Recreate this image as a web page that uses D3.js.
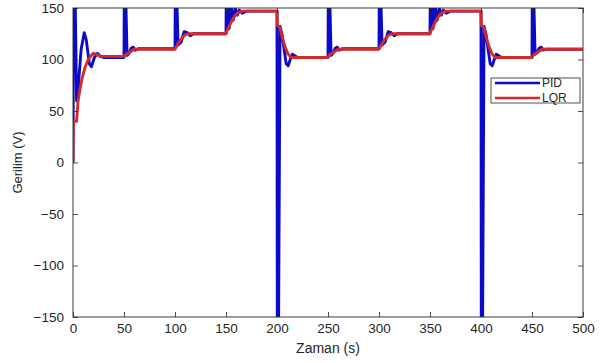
<!DOCTYPE html>
<html>
<head>
<meta charset="utf-8">
<script src="https://cdn.jsdelivr.net/npm/d3@7"></script>
<style>
  body { margin: 0; background: #fff; }
  svg { display: block; font-family: "Liberation Sans", Arial, sans-serif; }
</style>
</head>
<body>
<div id="chart"></div>
<script>
// Gerilim (V) vs Zaman (s) - PID vs LQR
const xTicks = [0, 50, 100, 150, 200, 250, 300, 350, 400, 450, 500];
const yTicks = [-150, -100, -50, 0, 50, 100, 150];

// PID response [t, V] (values beyond +/-150 are clipped by the axes)
const pidData = [
  [0, 0], [0.5, 170], [2, 170], [3.5, 60], [5, 72], [8, 110], [11, 126], [13, 119], [16, 96], [18, 93],
  [21, 102], [24, 106], [27, 103], [30, 102], [50, 102],
  [50.3, 170], [51.5, 170], [53, 104], [55, 106], [57, 111], [59, 112], [61, 109], [64, 110.5], [100, 110.5],
  [100.3, 170], [101.5, 170], [103, 114], [106, 117], [109, 127], [112, 126], [115, 123], [118, 125], [150, 125],
  [150.3, 170], [151.5, 170], [153, 130], [155, 152], [157, 138], [159, 150], [161, 143], [163, 148], [166, 145], [170, 147], [200, 147],
  [200.3, -170], [201.5, -170], [203, 132], [205, 124], [207, 110], [209, 96], [211, 94], [213, 100], [215, 105], [217, 104], [220, 102], [250, 102],
  [250.3, 170], [251.5, 170], [253, 104], [255, 106], [257, 111], [259, 112], [261, 109], [264, 110.5], [300, 110.5],
  [300.3, 170], [301.5, 170], [303, 114], [306, 117], [309, 127], [312, 126], [315, 123], [318, 125], [350, 125],
  [350.3, 170], [351.5, 170], [353, 130], [355, 152], [357, 138], [359, 150], [361, 143], [363, 148], [366, 145], [370, 147], [400, 147],
  [400.3, -170], [401.5, -170], [403, 132], [405, 124], [407, 110], [409, 96], [411, 94], [413, 100], [415, 105], [417, 104], [420, 102], [450, 102],
  [450.3, 170], [451.5, 170], [453, 105], [455, 107], [457, 111], [459, 112], [461, 109], [464, 110], [500, 110]
];

// LQR response [t, V]
const lqrData = [
  [0, 0], [0.4, 40], [3.5, 40], [5, 60], [7, 72], [9, 82], [12, 93], [15, 100], [18, 104], [20, 106], [23, 105], [27, 103], [50, 103],
  [51, 104], [54, 106], [57, 108], [60, 110], [100, 110],
  [101, 112], [104, 117], [107, 121], [110, 124], [113, 125], [150, 125],
  [151, 128], [154, 134], [157, 140], [160, 144], [163, 146], [166, 147], [200, 147],
  [200.4, 133], [203, 131], [205, 122], [208, 112], [211, 105], [214, 102], [250, 102],
  [251, 104], [254, 106], [257, 108], [260, 110], [300, 110],
  [301, 112], [304, 117], [307, 121], [310, 124], [313, 125], [350, 125],
  [351, 128], [354, 134], [357, 140], [360, 144], [363, 146], [366, 147], [400, 147],
  [400.4, 133], [403, 131], [405, 122], [408, 112], [411, 105], [414, 102], [450, 102],
  [451, 104], [454, 106], [457, 108], [460, 110], [500, 110]
];

const seriesNames = ['PID', 'LQR'];
const seriesColors = ['#0a0ac8', '#d42a2a'];

const width = 601, height = 363;
const margin = { top: 8, right: 18, bottom: 46, left: 73 };

const svg = d3.select('#chart').append('svg')
  .attr('width', width)
  .attr('height', height);

const x = d3.scaleLinear().domain([0, 500]).range([margin.left, width - margin.right]);
const y = d3.scaleLinear().domain([-150, 150]).range([height - margin.bottom, margin.top]);

svg.append('clipPath').attr('id', 'clip')
  .append('rect')
  .attr('x', margin.left).attr('y', margin.top)
  .attr('width', x(500) - x(0)).attr('height', y(-150) - y(150));

const line = d3.line().x(d => x(d[0])).y(d => y(d[1]));

const plot = svg.append('g').attr('clip-path', 'url(#clip)');
[pidData, lqrData].forEach((data, i) => {
  plot.append('path')
    .datum(data)
    .attr('fill', 'none')
    .attr('stroke', seriesColors[i])
    .attr('stroke-width', 2.9)
    .attr('stroke-linejoin', 'round')
    .attr('d', line);
});

// Axes (ticks inward, MATLAB style)
const axisColor = '#262626';
function styleAxis(g) {
  g.select('.domain').remove();
  g.selectAll('.tick line').attr('stroke', axisColor).attr('stroke-width', 0.8);
  g.selectAll('.tick text').attr('fill', axisColor).attr('font-size', '13.5px')
    .attr('font-family', '"Liberation Sans", Arial, sans-serif');
}

svg.append('g')
  .attr('transform', `translate(0,${y(-150)})`)
  .call(d3.axisBottom(x).tickValues(xTicks).tickSize(-5).tickPadding(6))
  .call(styleAxis);

svg.append('g')
  .attr('transform', `translate(0,${y(150)})`)
  .call(d3.axisTop(x).tickValues(xTicks).tickSize(-5).tickFormat(''))
  .call(styleAxis);

svg.append('g')
  .attr('transform', `translate(${x(0)},0)`)
  .call(d3.axisLeft(y).tickValues(yTicks).tickSize(-5).tickPadding(9))
  .call(styleAxis);

svg.append('g')
  .attr('transform', `translate(${x(500)},0)`)
  .call(d3.axisRight(y).tickValues(yTicks).tickSize(-5).tickFormat(''))
  .call(styleAxis);

svg.append('rect')
  .attr('x', x(0)).attr('y', y(150))
  .attr('width', x(500) - x(0)).attr('height', y(-150) - y(150))
  .attr('fill', 'none').attr('stroke', axisColor).attr('stroke-width', 0.9);

// Axis labels
svg.append('text')
  .attr('x', (x(0) + x(500)) / 2).attr('y', 353)
  .attr('text-anchor', 'middle')
  .attr('fill', axisColor).attr('font-size', '14px')
  .text('Zaman (s)');

svg.append('text')
  .attr('transform', `translate(22,${y(0)}) rotate(-90)`)
  .attr('text-anchor', 'middle')
  .attr('fill', axisColor).attr('font-size', '13px')
  .text('Gerilim (V)');

// Legend
const legend = svg.append('g').attr('transform', 'translate(491,78)');
legend.append('rect')
  .attr('width', 89).attr('height', 25)
  .attr('fill', '#fff').attr('stroke', axisColor).attr('stroke-width', 0.8);
seriesNames.forEach((name, i) => {
  const ly = 5 + i * 15;
  legend.append('line')
    .attr('x1', 4).attr('x2', 49).attr('y1', ly).attr('y2', ly)
    .attr('stroke', seriesColors[i]).attr('stroke-width', 2.6);
  legend.append('text')
    .attr('x', 51).attr('y', ly + 4)
    .attr('fill', axisColor).attr('font-size', '12px')
    .text(name);
});
</script>
</body>
</html>
